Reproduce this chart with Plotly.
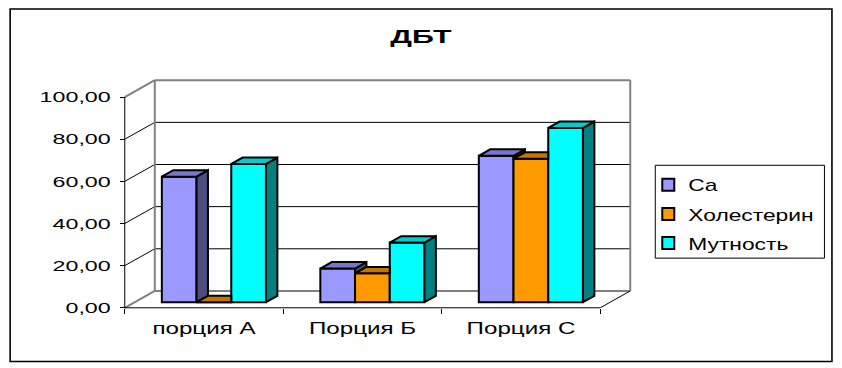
import plotly.graph_objects as go

# ---------------- data ----------------
categories = ["порция А", "Порция Б", "Порция С"]
series_names = ["Ca", "Холестерин", "Мутность"]
ca_values = [59.6, 16.0, 69.5]
chol_values = [0.0, 13.7, 68.1]
turb_values = [65.6, 28.3, 82.7]
y_tick_values = [0, 20, 40, 60, 80, 100]

series_values = [ca_values, chol_values, turb_values]
front_colors = ["#9999FF", "#FF9900", "#00FFFF"]
top_colors = ["#7777CC", "#C47600", "#00CCCC"]
side_colors = ["#4D4D80", "#804D00", "#008080"]

# ---------------- geometry (pixel layout of the reference) ----------------
W, H = 842, 368
PX_X0 = 125.0          # pixel of x = 0 (front left corner)
PX_PER_CAT = 158.33    # pixels per category
PX_Y0 = 307.7          # pixel of y = 0 on the front plane
PX_PER_VAL = 2.11      # pixels per value unit
DX = 30.0 / PX_PER_CAT  # depth offset of the back wall (x units)
DY = 8.0                # depth offset of the back wall (value units)
T0 = 0.33               # depth of bar front faces (fraction of depth)
TB = 0.38               # bar depth (fraction of depth)
BW = 0.219              # bar width (category units)
YMAX = 100.0
n_cat = len(categories)

x_lo, x_hi = -0.03, n_cat + DX + 0.03
y_lo, y_hi = -2.0, YMAX + DY + 2.0
plot_left = PX_X0 + x_lo * PX_PER_CAT
plot_right = PX_X0 + x_hi * PX_PER_CAT
plot_bottom = PX_Y0 - y_lo * PX_PER_VAL
plot_top = PX_Y0 - y_hi * PX_PER_VAL
plot_w = plot_right - plot_left
plot_h = plot_bottom - plot_top


def px2paper_x(px):
    return (px - plot_left) / plot_w


def px2paper_y(py):
    return (plot_bottom - py) / plot_h


fig = go.Figure()

# ---------------- walls, gridlines (shapes below traces) ----------------
shapes = []
GREY = "#808080"


def seg(x0, y0, x1, y1, color="black", width=1):
    shapes.append(dict(type="line", xref="x", yref="y", x0=x0, y0=y0, x1=x1, y1=y1,
                       line=dict(color=color, width=width), layer="below"))


# back wall background
shapes.append(dict(type="rect", xref="x", yref="y", x0=DX, y0=DY, x1=n_cat + DX, y1=YMAX + DY,
                   fillcolor="white", line=dict(width=0), layer="below"))
for v in y_tick_values:
    edge = v in (y_tick_values[0], y_tick_values[-1])
    col, wid = (GREY, 2) if edge else ("black", 1)
    seg(DX, v + DY, n_cat + DX, v + DY, col, wid)
    seg(0, v, DX, v + DY, col, wid)
seg(DX, DY, DX, YMAX + DY, GREY, 2)
seg(n_cat + DX, DY, n_cat + DX, YMAX + DY, GREY, 2)
# front axis and floor edges
seg(0, 0, 0, YMAX, "black", 1)
seg(0, 0, n_cat, 0, "black", 1)
seg(n_cat, 0, n_cat + DX, DY, "black", 1)

# outer chart border and legend box (paper coords)
shapes.append(dict(type="rect", xref="paper", yref="paper",
                   x0=px2paper_x(10.5), x1=px2paper_x(831.5),
                   y0=px2paper_y(361.5), y1=px2paper_y(8.5),
                   line=dict(color="black", width=1.6), layer="below"))
shapes.append(dict(type="rect", xref="paper", yref="paper",
                   x0=px2paper_x(655), x1=px2paper_x(824),
                   y0=px2paper_y(258), y1=px2paper_y(165),
                   line=dict(color="black", width=1), layer="below"))

# ---------------- bars ----------------
base = T0 * DY
dx = TB * DX
dy = TB * DY
group_off = (1 - len(series_values) * BW) / 2


def bar_left(j, i):
    return j + group_off + i * BW + T0 * DX


# front faces as real bars
for i, (name, vals) in enumerate(zip(series_names, series_values)):
    fig.add_trace(go.Bar(
        x=[bar_left(j, i) + BW / 2 for j in range(n_cat)],
        y=vals, base=base, width=BW, name=name,
        marker=dict(color=front_colors[i], line=dict(color="black", width=2)),
        legendgroup=name, hoverinfo="skip"))


def poly(xs, ys, color):
    fig.add_trace(go.Scatter(
        x=xs + [xs[0]], y=ys + [ys[0]], mode="lines", fill="toself",
        fillcolor=color, line=dict(color="black", width=2),
        showlegend=False, hoverinfo="skip"))


# top and side faces, painted left to right
for j in range(n_cat):
    for i, vals in enumerate(series_values):
        xl = bar_left(j, i)
        xr = xl + BW
        top = base + vals[j]
        nxt = series_values[i + 1][j] if i + 1 < len(series_values) else None
        # side face (visible part only)
        if nxt is None:
            poly([xr, xr + dx, xr + dx, xr], [base, base + dy, top + dy, top], side_colors[i])
        elif nxt < vals[j]:
            hn = base + nxt
            poly([xr, xr + dx, xr + dx, xr], [hn, hn + dy, top + dy, top], side_colors[i])
        # top face (visible part only)
        if nxt is None or nxt <= vals[j]:
            poly([xl, xr, xr + dx, xl + dx], [top, top, top + dy, top + dy], top_colors[i])
        else:
            hn = base + nxt
            if hn >= top + dy:
                poly([xl, xr, xr, xl + dx], [top, top, top + dy, top + dy], top_colors[i])
            else:
                xs_cut = xr + (hn - top) / dy * dx
                poly([xl, xr, xr, xs_cut, xr + dx, xl + dx],
                     [top, top, hn, hn, top + dy, top + dy], top_colors[i])

FONT = "Liberation Sans, Arial, sans-serif"

fig.update_layout(
    width=W, height=H,
    margin=dict(l=plot_left, r=W - plot_right, t=plot_top, b=H - plot_bottom, pad=0,
                autoexpand=False),
    paper_bgcolor="white", plot_bgcolor="white",
    separators=", ",
    barmode="overlay",
    showlegend=True,
    font=dict(family=FONT, color="black"),
    title=dict(text="<b>ДБТ</b>", font=dict(family=FONT, size=19, color="black"),
               xref="container", yref="container", x=421 / W, y=1 - 36 / H,
               xanchor="center", yanchor="middle"),
    legend=dict(x=px2paper_x(648), y=px2paper_y(167), xanchor="left", yanchor="top",
                bgcolor="rgba(0,0,0,0)", borderwidth=0, font=dict(family=FONT, size=17),
                traceorder="grouped", tracegroupgap=4),
    shapes=shapes,
    xaxis=dict(range=[x_lo, x_hi], showgrid=False, zeroline=False, showline=False,
               tickmode="array", tickvals=[j + 0.5 for j in range(n_cat)], ticktext=categories,
               ticks="", tickfont=dict(family=FONT, size=17),
               anchor="free", position=(0 - y_lo) / (y_hi - y_lo),
               ticklabelstandoff=8,
               minor=dict(tickmode="array", tickvals=list(range(n_cat + 1)), ticks="outside",
                          ticklen=5, tickcolor="black", tickwidth=1, showgrid=False),
               fixedrange=True),
    yaxis=dict(range=[y_lo, y_hi], showgrid=False, zeroline=False, showline=False,
               tickmode="array", tickvals=y_tick_values, tickformat=".2f",
               ticks="outside", ticklen=5, tickcolor="black", tickwidth=1,
               tickfont=dict(family=FONT, size=15),
               anchor="free", position=(0 - x_lo) / (x_hi - x_lo),
               ticklabelstandoff=6, fixedrange=True),
)

post = """
document.body.style.margin = '0';
document.body.style.padding = '0';
var gd = document.getElementById('{plot_id}');
gd.querySelectorAll('.legend, .legend .scrollbox, .legend g').forEach(function(e){
  e.removeAttribute('clip-path');
});
function stretch(sel, f){
  gd.querySelectorAll(sel).forEach(function(t){
    var w = t.getComputedTextLength();
    if (w > 0){ t.setAttribute('textLength', w * f); t.setAttribute('lengthAdjust', 'spacingAndGlyphs'); }
  });
}
stretch('.ytick text', 1.55);
stretch('.xtick text', 1.42);
stretch('.legendtext', 1.34);
stretch('.gtitle', 1.6);
"""

fig.write_html("out.html", post_script=post, config={"staticPlot": True})
